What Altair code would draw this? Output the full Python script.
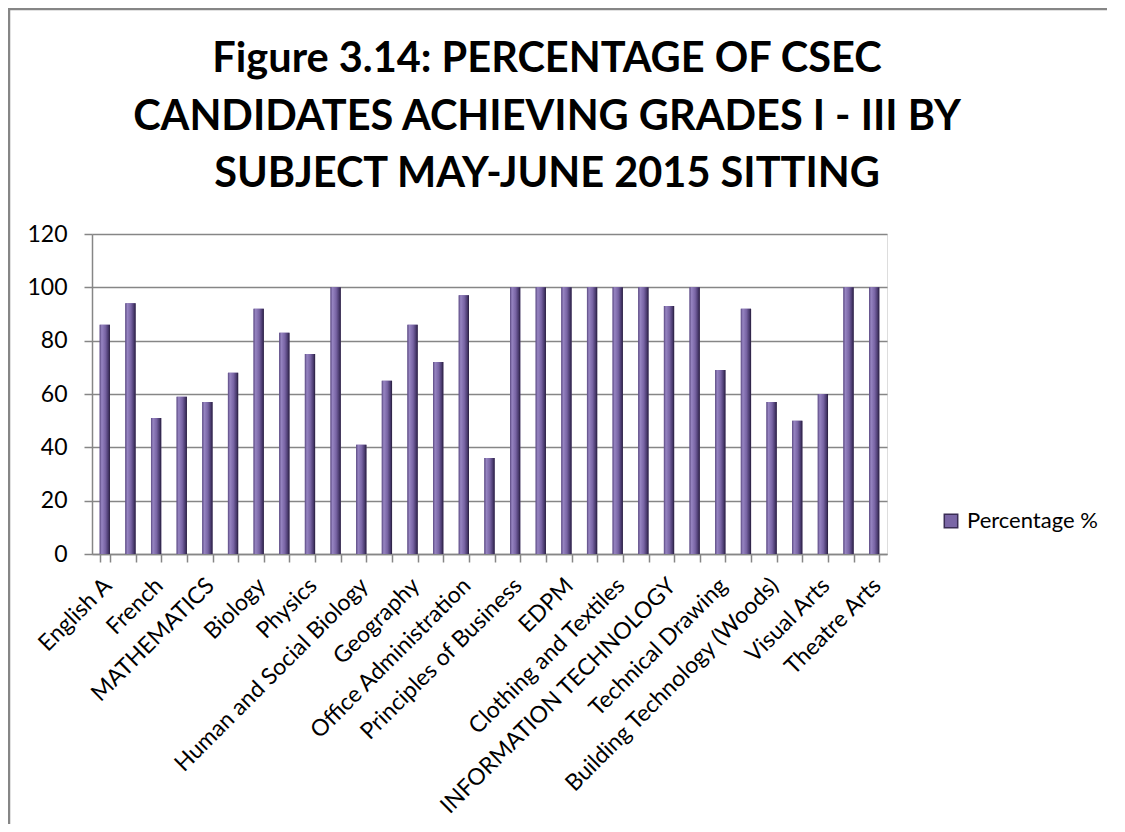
import altair as alt
import pandas as pd

subjects = [
    "English A", "English B", "French", "Spanish", "MATHEMATICS",
    "Additional Mathematics", "Biology", "Chemistry", "Physics",
    "Integrated Science", "Human and Social Biology", "Agricultural Science",
    "Geography", "Caribbean History", "Office Administration",
    "Principles of Accounts", "Principles of Business", "Economics", "EDPM",
    "Food and Nutrition", "Clothing and Textiles", "Home Economics Management",
    "INFORMATION TECHNOLOGY", "Electrical and Electronic Technology",
    "Technical Drawing", "Mechanical Engineering Technology",
    "Building Technology (Woods)", "Physical Education and Sport",
    "Visual Arts", "Music", "Theatre Arts",
]
percentages = [
    86, 94, 51, 59, 57, 68, 92, 83, 75, 100, 41, 65, 86, 72, 97, 36,
    100, 100, 100, 100, 100, 100, 93, 100, 69, 92, 57, 50, 60, 100, 100,
]
series_name = "Percentage %"
title_lines = [
    "Figure 3.14: PERCENTAGE OF CSEC",
    "CANDIDATES ACHIEVING GRADES I - III BY",
    "SUBJECT MAY-JUNE 2015 SITTING",
]
y_ticks = [0, 20, 40, 60, 80, 100, 120]
labeled = subjects[::2]

df = pd.DataFrame({"Subject": subjects, "Percentage": percentages, "Series": series_name})

label_expr = (
    "indexof([" + ",".join("'" + s + "'" for s in labeled) + "], datum.value) >= 0 ? datum.value : ''"
)

FONT = "Lato"
GREY = "#868686"

x_enc = alt.X(
    "Subject:N",
    sort=subjects,
    scale=alt.Scale(paddingInner=0.6, paddingOuter=0.3),
    axis=alt.Axis(
        title=None, labelAngle=-45, labelAlign="right", labelBaseline="top",
        labelExpr=label_expr, tickBand="extent", tickSize=8, tickWidth=1.5,
        labelFont=FONT, labelFontSize=23, labelColor="black", labelLimit=0,
        domainColor=GREY, domainWidth=1.5, tickColor=GREY, labelPadding=12,
        labelOffset=-5, labelOverlap=False, labelBound=False, grid=False,
    ),
)
y_enc = alt.Y(
    "Percentage:Q",
    scale=alt.Scale(domain=[0, 120], nice=False),
    axis=alt.Axis(
        title=None, values=y_ticks, grid=True, gridColor=GREY, gridWidth=1.3,
        tickSize=8, tickWidth=1.5, tickColor=GREY, domainColor=GREY, domainWidth=1.5,
        labelFont=FONT, labelFontSize=23, labelColor="black", labelPadding=17,
    ),
)

base = alt.Chart(df)

legend_bars = base.mark_bar().encode(
    x=x_enc,
    y=y_enc,
    color=alt.Color(
        "Series:N",
        scale=alt.Scale(range=["#7a66a6"]),
        legend=alt.Legend(
            title=None, orient="none", legendX=848, legendY=276,
            symbolType="square", symbolSize=180, symbolStrokeColor="#3a2d55",
            symbolStrokeWidth=1.5, labelFont=FONT, labelFontSize=22,
            labelColor="black", padding=0, labelOffset=5,
        ),
    ),
)

grad = alt.Gradient(
    gradient="linear",
    stops=[
        alt.GradientStop(color="#5a4981", offset=0),
        alt.GradientStop(color="#9684c1", offset=0.2),
        alt.GradientStop(color="#7864a4", offset=0.55),
        alt.GradientStop(color="#46376a", offset=0.85),
        alt.GradientStop(color="#251c38", offset=1),
    ],
    x1=0, x2=1, y1=0, y2=0,
)
grad_bars = base.mark_bar(fill=grad).encode(x=x_enc, y=y_enc)

frame_df = pd.DataFrame({"k": [0]})
top_line = alt.Chart(frame_df).mark_rule(color=GREY, strokeWidth=2.5).encode(
    x=alt.value(-84), x2=alt.value(1040), y=alt.value(-225)
)
left_line = alt.Chart(frame_df).mark_rule(color=GREY, strokeWidth=2.5).encode(
    x=alt.value(-83), y=alt.value(-226), y2=alt.value(600)
)
title_text = alt.Chart(frame_df).mark_text(
    font=FONT, fontSize=41.5, fontWeight="bold", lineHeight=57.5,
    align="center", baseline="alphabetic", color="black",
).encode(x=alt.value(455), y=alt.value(-162), text=alt.value(title_lines))

chart = alt.layer(legend_bars, grad_bars, top_line, left_line, title_text).properties(
    width=795,
    height=320,
    padding={"left": 84, "top": 226, "right": 220, "bottom": 270},
    autosize=alt.AutoSizeParams(type="none"),
).configure_view(stroke=None).configure(background="white")

chart.save("out.html", embed_options={"renderer": "svg", "actions": False})
